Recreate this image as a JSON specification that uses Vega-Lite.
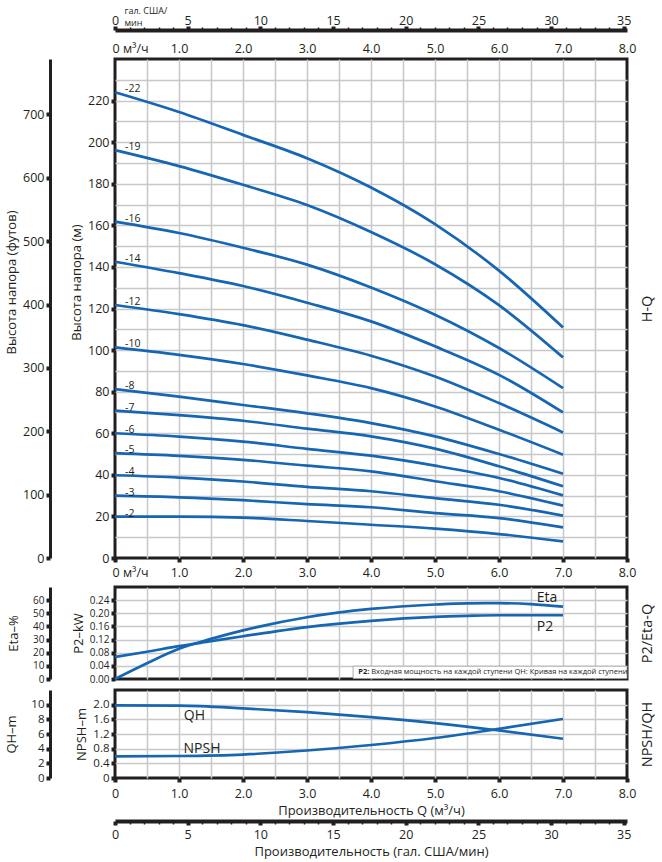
{
"$schema": "https://vega.github.io/schema/vega-lite/v6.json",
"padding": {"left": 4, "top": 4, "right": 0, "bottom": 0},
"background": "white",
"config": {
 "font": "Open Sans",
 "view": {"stroke": "#231f20", "strokeWidth": 3},
 "axis": {"labelFont": "Open Sans", "labelFontSize": 12.5, "labelColor": "#231f20", "titleFont": "Open Sans", "titleFontSize": 13, "titleFontWeight": "normal", "titleColor": "#231f20", "gridColor": "#c8c8c8", "gridWidth": 1.5, "domainColor": "#231f20", "tickColor": "#231f20", "labelOverlap": false, "labelFlush": false},
 "line": {"color": "#1666b4", "strokeWidth": 2.7},
 "text": {"font": "Open Sans", "color": "#231f20"}
},
"datasets": {
 "hq": [
  {"s":"-22","q":0,"h":224.0},{"s":"-22","q":1,"h":214.5},{"s":"-22","q":2,"h":203.5},{"s":"-22","q":3,"h":192.3},{"s":"-22","q":4,"h":178.2},{"s":"-22","q":5,"h":160.6},{"s":"-22","q":6,"h":138.2},{"s":"-22","q":7,"h":110.9},
  {"s":"-19","q":0,"h":196.2},{"s":"-19","q":1,"h":188.5},{"s":"-19","q":2,"h":179.5},{"s":"-19","q":3,"h":169.8},{"s":"-19","q":4,"h":156.8},{"s":"-19","q":5,"h":141.3},{"s":"-19","q":6,"h":121.6},{"s":"-19","q":7,"h":96.5},
  {"s":"-16","q":0,"h":161.8},{"s":"-16","q":1,"h":156.3},{"s":"-16","q":2,"h":149.2},{"s":"-16","q":3,"h":141.1},{"s":"-16","q":4,"h":130.1},{"s":"-16","q":5,"h":117.0},{"s":"-16","q":6,"h":101.0},{"s":"-16","q":7,"h":81.7},
  {"s":"-14","q":0,"h":142.5},{"s":"-14","q":1,"h":137.0},{"s":"-14","q":2,"h":130.8},{"s":"-14","q":3,"h":122.8},{"s":"-14","q":4,"h":113.8},{"s":"-14","q":5,"h":101.8},{"s":"-14","q":6,"h":88.1},{"s":"-14","q":7,"h":70.0},
  {"s":"-12","q":0,"h":121.7},{"s":"-12","q":1,"h":117.3},{"s":"-12","q":2,"h":112.0},{"s":"-12","q":3,"h":105.0},{"s":"-12","q":4,"h":97.3},{"s":"-12","q":5,"h":87.3},{"s":"-12","q":6,"h":74.5},{"s":"-12","q":7,"h":60.4},
  {"s":"-10","q":0,"h":101.3},{"s":"-10","q":1,"h":97.7},{"s":"-10","q":2,"h":93.3},{"s":"-10","q":3,"h":87.8},{"s":"-10","q":4,"h":81.7},{"s":"-10","q":5,"h":72.9},{"s":"-10","q":6,"h":61.7},{"s":"-10","q":7,"h":49.7},
  {"s":"-8","q":0,"h":81.2},{"s":"-8","q":1,"h":77.6},{"s":"-8","q":2,"h":73.6},{"s":"-8","q":3,"h":69.6},{"s":"-8","q":4,"h":64.9},{"s":"-8","q":5,"h":58.5},{"s":"-8","q":6,"h":50.0},{"s":"-8","q":7,"h":40.5},
  {"s":"-7","q":0,"h":70.9},{"s":"-7","q":1,"h":68.7},{"s":"-7","q":2,"h":66.0},{"s":"-7","q":3,"h":62.2},{"s":"-7","q":4,"h":58.5},{"s":"-7","q":5,"h":52.6},{"s":"-7","q":6,"h":44.1},{"s":"-7","q":7,"h":34.5},
  {"s":"-6","q":0,"h":60.0},{"s":"-6","q":1,"h":58.4},{"s":"-6","q":2,"h":56.0},{"s":"-6","q":3,"h":52.5},{"s":"-6","q":4,"h":49.2},{"s":"-6","q":5,"h":44.4},{"s":"-6","q":6,"h":38.5},{"s":"-6","q":7,"h":30.1},
  {"s":"-5","q":0,"h":50.4},{"s":"-5","q":1,"h":49.1},{"s":"-5","q":2,"h":47.2},{"s":"-5","q":3,"h":44.4},{"s":"-5","q":4,"h":41.7},{"s":"-5","q":5,"h":36.9},{"s":"-5","q":6,"h":32.1},{"s":"-5","q":7,"h":25.2},
  {"s":"-4","q":0,"h":39.8},{"s":"-4","q":1,"h":38.7},{"s":"-4","q":2,"h":36.8},{"s":"-4","q":3,"h":34.2},{"s":"-4","q":4,"h":32.1},{"s":"-4","q":5,"h":28.8},{"s":"-4","q":6,"h":25.6},{"s":"-4","q":7,"h":20.4},
  {"s":"-3","q":0,"h":30.0},{"s":"-3","q":1,"h":29.2},{"s":"-3","q":2,"h":27.8},{"s":"-3","q":3,"h":25.9},{"s":"-3","q":4,"h":24.4},{"s":"-3","q":5,"h":21.6},{"s":"-3","q":6,"h":19.2},{"s":"-3","q":7,"h":14.7},
  {"s":"-2","q":0,"h":19.9},{"s":"-2","q":1,"h":19.9},{"s":"-2","q":2,"h":19.4},{"s":"-2","q":3,"h":17.8},{"s":"-2","q":4,"h":16.0},{"s":"-2","q":5,"h":14.1},{"s":"-2","q":6,"h":11.5},{"s":"-2","q":7,"h":8.0}
 ],
 "pe": [
  {"q":0,"p2":0.067,"eta":0},{"q":0.5,"p2":0.083,"eta":12},{"q":1,"p2":0.100,"eta":23},{"q":1.5,"p2":0.115,"eta":30.5},{"q":2,"p2":0.130,"eta":37},{"q":3,"p2":0.158,"eta":47},{"q":4,"p2":0.177,"eta":53.3},{"q":5,"p2":0.189,"eta":56.7},{"q":5.5,"p2":0.192,"eta":57.6},{"q":6,"p2":0.194,"eta":57.7},{"q":6.5,"p2":0.194,"eta":57},{"q":7,"p2":0.194,"eta":55}
 ],
 "nq": [
  {"q":0,"qh":9.9,"npsh":0.59},{"q":1,"qh":9.86,"npsh":0.6},{"q":2,"qh":9.5,"npsh":0.64},{"q":3,"qh":8.98,"npsh":0.75},{"q":4,"qh":8.3,"npsh":0.9},{"q":5,"qh":7.48,"npsh":1.09},{"q":6,"qh":6.48,"npsh":1.34},{"q":7,"qh":5.35,"npsh":1.61}
 ],
 "aux": [{"gpm":0,"ft":0},{"gpm":35,"ft":700}],
 "pelab": [{"t":"Eta","q":6.75,"v":0.247},{"t":"P2","q":6.72,"v":0.158}],
 "nqlab": [{"t":"QH","q":1.24,"v":1.70},{"t":"NPSH","q":1.36,"v":0.80}],
 "note": [{"k":"P2:","t":"Входная мощность на каждой ступени QH: Кривая на каждой ступени","q":3.8,"q0":3.72,"q1":8,"v":0.02,"v0":0.0015,"v1":0.039}]
},
"spacing": 29,
"bounds": "flush",
"vconcat": [
 {
  "width": 512, "height": 499,
  "resolve": {"scale": {"x": "independent", "y": "independent"}, "axis": {"x": "independent", "y": "independent"}},
  "layer": [
   {
    "data": {"name": "hq"},
    "mark": {"type": "line", "interpolate": "monotone"},
    "encoding": {
     "x": {"field": "q", "type": "quantitative", "scale": {"domain": [0, 8], "nice": false},
      "axis": {"orient": "top", "values": [0,0.5,1,1.5,2,2.5,3,3.5,4,4.5,5,5.5,6,6.5,7,7.5,8], "grid": true,
       "gridOpacity": {"condition": {"test": "datum.value == 0 || datum.value == 8", "value": 0}, "value": 1},
       "ticks": false, "domain": false,
       "labelExpr": "datum.value % 1 ? '' : (datum.value == 0 ? '0 м³/ч' : format(datum.value, '.1f'))",
       "labelAlign": {"condition": {"test": "datum.value == 0", "value": "left"}, "value": "center"},
       "labelOffset": {"condition": {"test": "datum.value == 0", "value": -3}, "value": 0},
       "labelPadding": 4, "title": null}},
     "y": {"field": "h", "type": "quantitative", "scale": {"domain": [0, 240], "nice": false},
      "axis": {"values": [0,10,20,30,40,50,60,70,80,90,100,110,120,130,140,150,160,170,180,190,200,210,220,230,240], "grid": true,
       "gridOpacity": {"condition": {"test": "datum.value == 0 || datum.value == 240", "value": 0}, "value": 1},
       "domain": false, "tickSize": 4, "tickWidth": 4,
       "tickOpacity": {"condition": {"test": "datum.value % 20 != 0 || datum.value == 240", "value": 0}, "value": 1},
       "labelExpr": "datum.value % 20 != 0 || datum.value == 240 ? '' : datum.label",
       "labelPadding": 2, "title": "Высота напора (м)", "titlePadding": 4, "titleY": 223}},
     "detail": {"field": "s"}
    }
   },
   {
    "data": {"name": "hq"},
    "transform": [{"filter": "datum.q == 0"}],
    "mark": {"type": "text", "align": "left", "baseline": "bottom", "dx": 10, "dy": 2, "fontSize": 10.5},
    "encoding": {
     "x": {"field": "q", "type": "quantitative", "scale": {"domain": [0, 8], "nice": false},
      "axis": {"orient": "bottom", "values": [0,1,2,3,4,5,6,7,8], "grid": false, "domain": false, "tickSize": 4, "tickWidth": 4,
       "labelExpr": "datum.value == 0 ? '0 м³/ч' : format(datum.value, '.1f')",
       "labelAlign": {"condition": {"test": "datum.value == 0", "value": "left"}, "value": "center"},
       "labelOffset": {"condition": {"test": "datum.value == 0", "value": -3}, "value": 0},
       "labelPadding": 4, "title": null}},
     "y": {"field": "h", "type": "quantitative", "scale": {"domain": [0, 240], "nice": false},
      "axis": {"orient": "right", "labels": false, "ticks": false, "domain": false, "grid": false, "title": "H-Q", "titleAngle": 270, "titleBaseline": "top", "titleFontSize": 14.5, "titlePadding": 13}},
     "text": {"field": "s"}
    }
   },
   {
    "data": {"name": "aux"},
    "mark": {"type": "point", "opacity": 0},
    "encoding": {
     "x": {"field": "gpm", "type": "quantitative", "scale": {"domain": [0, 35.2252], "nice": false},
      "axis": {"orient": "top", "offset": 29, "values": [0,1,2,3,4,5,6,7,8,9,10,11,12,13,14,15,16,17,18,19,20,21,22,23,24,25,26,27,28,29,30,31,32,33,34,35],
       "grid": false, "domainWidth": 4,
       "tickSize": {"condition": {"test": "datum.value % 5 != 0", "value": 3}, "value": 4},
       "tickWidth": {"condition": {"test": "datum.value % 5 != 0", "value": 1.5}, "value": 4},
       "labelExpr": "datum.value % 5 != 0 ? '' : datum.label", "labelPadding": -1,
       "title": ["гал. США/", "мин"], "titleFontSize": 9, "titleAnchor": "start", "titleAlign": "left", "titleBaseline": "top", "titleX": 9, "titleY": -24, "titleLineHeight": 12}},
     "y": {"field": "ft", "type": "quantitative", "scale": {"domain": [0, 787.4], "nice": false},
      "axis": {"orient": "left", "offset": 65, "values": [0,100,200,300,400,500,600,700], "grid": false, "domainWidth": 3, "tickSize": 4, "tickWidth": 4,
       "labelPadding": 2, "title": "Высота напора (футов)", "titlePadding": 4, "titleY": 223}}
    }
   }
  ]
 },
 {
  "spacing": 11,
  "bounds": "flush",
  "vconcat": [
   {
    "width": 512, "height": 92,
    "resolve": {"scale": {"x": "independent", "y": "independent"}, "axis": {"x": "independent", "y": "independent"}},
    "layer": [
     {
      "data": {"name": "pe"},
      "mark": {"type": "line", "interpolate": "monotone"},
      "encoding": {
       "x": {"field": "q", "type": "quantitative", "scale": {"domain": [0, 8], "nice": false},
        "axis": {"values": [0,0.5,1,1.5,2,2.5,3,3.5,4,4.5,5,5.5,6,6.5,7,7.5,8], "grid": true,
         "gridOpacity": {"condition": {"test": "datum.value == 0 || datum.value == 8", "value": 0}, "value": 1},
         "labels": false, "ticks": false, "domain": false, "title": null}},
       "y": {"field": "p2", "type": "quantitative", "scale": {"domain": [0, 0.28], "nice": false},
        "axis": {"values": [0,0.04,0.08,0.12,0.16,0.2,0.24,0.28], "grid": true,
         "gridOpacity": {"condition": {"test": "datum.value == 0 || datum.value > 0.27", "value": 0}, "value": 1},
         "domain": false, "tickSize": 4, "tickWidth": 4,
         "tickOpacity": {"condition": {"test": "datum.value > 0.27", "value": 0}, "value": 1},
         "labelExpr": "datum.value > 0.27 ? '' : format(datum.value, '.2f')",
         "labelFontSize": 10, "labelPadding": 2, "title": "P2–kW", "titlePadding": 4}}
      }
     },
     {
      "data": {"name": "pe"},
      "mark": {"type": "line", "interpolate": "monotone"},
      "encoding": {
       "x": {"field": "q", "type": "quantitative", "scale": {"domain": [0, 8], "nice": false}, "axis": null},
       "y": {"field": "eta", "type": "quantitative", "scale": {"domain": [0, 70], "nice": false},
        "axis": {"orient": "left", "offset": 65, "values": [0,10,20,30,40,50,60], "grid": false, "domainWidth": 3, "tickSize": 4, "tickWidth": 4,
         "labelFontSize": 10, "labelPadding": 2, "title": "Eta–%", "titlePadding": 12}}
      }
     },
     {
      "data": {"name": "pelab"},
      "mark": {"type": "text", "fontSize": 14, "align": "center", "baseline": "middle"},
      "encoding": {
       "x": {"field": "q", "type": "quantitative", "scale": {"domain": [0, 8], "nice": false}, "axis": null},
       "y": {"field": "v", "type": "quantitative", "scale": {"domain": [0, 0.28], "nice": false},
        "axis": {"orient": "right", "labels": false, "ticks": false, "domain": false, "grid": false, "title": "P2/Eta-Q", "titleAngle": 270, "titleBaseline": "top", "titleFontSize": 14.5, "titlePadding": 13}},
       "text": {"field": "t"}
      }
     },
     {
      "data": {"name": "note"},
      "mark": {"type": "rect", "fill": "white", "stroke": "#9a9a9a", "strokeWidth": 0.8},
      "encoding": {
       "x": {"field": "q0", "type": "quantitative", "scale": {"domain": [0, 8], "nice": false}, "axis": null},
       "x2": {"field": "q1"},
       "y": {"field": "v0", "type": "quantitative", "scale": {"domain": [0, 0.28], "nice": false}, "axis": null},
       "y2": {"field": "v1"}
      }
     },
     {
      "data": {"name": "note"},
      "mark": {"type": "text", "fontSize": 7.5, "fontWeight": "bold", "align": "left", "baseline": "middle"},
      "encoding": {
       "x": {"field": "q", "type": "quantitative", "scale": {"domain": [0, 8], "nice": false}, "axis": null},
       "y": {"field": "v", "type": "quantitative", "scale": {"domain": [0, 0.28], "nice": false}, "axis": null},
       "text": {"field": "k"}
      }
     },
     {
      "data": {"name": "note"},
      "mark": {"type": "text", "fontSize": 7.5, "align": "left", "baseline": "middle", "dx": 13},
      "encoding": {
       "x": {"field": "q", "type": "quantitative", "scale": {"domain": [0, 8], "nice": false}, "axis": null},
       "y": {"field": "v", "type": "quantitative", "scale": {"domain": [0, 0.28], "nice": false}, "axis": null},
       "text": {"field": "t"}
      }
     }
    ]
   },
   {
    "width": 512, "height": 88,
    "resolve": {"scale": {"x": "independent", "y": "independent"}, "axis": {"x": "independent", "y": "independent"}},
    "layer": [
     {
      "data": {"name": "nq"},
      "mark": {"type": "line", "interpolate": "monotone"},
      "encoding": {
       "x": {"field": "q", "type": "quantitative", "scale": {"domain": [0, 8], "nice": false},
        "axis": {"values": [0,0.5,1,1.5,2,2.5,3,3.5,4,4.5,5,5.5,6,6.5,7,7.5,8], "grid": true,
         "gridOpacity": {"condition": {"test": "datum.value == 0 || datum.value == 8", "value": 0}, "value": 1},
         "domain": false, "tickSize": 4, "tickWidth": 4,
         "tickOpacity": {"condition": {"test": "datum.value % 1 != 0", "value": 0}, "value": 1},
         "labelExpr": "datum.value % 1 != 0 ? '' : (datum.value == 0 ? '0' : format(datum.value, '.1f'))",
         "labelPadding": 5, "title": "Производительность Q (м³/ч)", "titlePadding": 5}},
       "y": {"field": "npsh", "type": "quantitative", "scale": {"domain": [0, 2.4], "nice": false},
        "axis": {"values": [0,0.4,0.8,1.2,1.6,2.0,2.4], "grid": true,
         "gridOpacity": {"condition": {"test": "datum.value == 0 || datum.value > 2.3", "value": 0}, "value": 1},
         "domain": false, "tickSize": 4, "tickWidth": 4,
         "tickOpacity": {"condition": {"test": "datum.value > 2.3", "value": 0}, "value": 1},
         "labelExpr": "datum.value > 2.3 ? '' : (datum.value == 0 ? '0' : format(datum.value, '.1f'))",
         "labelFontSize": 11.5, "labelPadding": 2, "title": "NPSH–m", "titlePadding": 4}}
      }
     },
     {
      "data": {"name": "nq"},
      "mark": {"type": "line", "interpolate": "monotone"},
      "encoding": {
       "x": {"field": "q", "type": "quantitative", "scale": {"domain": [0, 8], "nice": false}, "axis": null},
       "y": {"field": "qh", "type": "quantitative", "scale": {"domain": [0, 12], "nice": false},
        "axis": {"orient": "left", "offset": 65, "values": [0,2,4,6,8,10], "grid": false, "domainWidth": 3, "tickSize": 4, "tickWidth": 4,
         "labelFontSize": 11.5, "labelPadding": 2, "title": "QH–m", "titlePadding": 12}}
      }
     },
     {
      "data": {"name": "nqlab"},
      "mark": {"type": "text", "fontSize": 14, "align": "center", "baseline": "middle"},
      "encoding": {
       "x": {"field": "q", "type": "quantitative", "scale": {"domain": [0, 8], "nice": false}, "axis": null},
       "y": {"field": "v", "type": "quantitative", "scale": {"domain": [0, 2.4], "nice": false},
        "axis": {"orient": "right", "labels": false, "ticks": false, "domain": false, "grid": false, "title": "NPSH/QH", "titleAngle": 270, "titleBaseline": "top", "titleFontSize": 14.5, "titlePadding": 13}},
       "text": {"field": "t"}
      }
     },
     {
      "data": {"name": "aux"},
      "mark": {"type": "point", "opacity": 0},
      "encoding": {
       "x": {"field": "gpm", "type": "quantitative", "scale": {"domain": [0, 35.2252], "nice": false},
        "axis": {"orient": "bottom", "offset": 43, "values": [0,1,2,3,4,5,6,7,8,9,10,11,12,13,14,15,16,17,18,19,20,21,22,23,24,25,26,27,28,29,30,31,32,33,34,35],
         "grid": false, "domainWidth": 4,
         "tickSize": {"condition": {"test": "datum.value % 5 != 0", "value": 3}, "value": 4},
         "tickWidth": {"condition": {"test": "datum.value % 5 != 0", "value": 1.5}, "value": 4},
         "labelExpr": "datum.value % 5 != 0 ? '' : datum.label", "labelPadding": 3,
         "title": "Производительность (гал. США/мин)", "titlePadding": 5}},
       "y": {"field": "ft", "type": "quantitative", "scale": {"domain": [0, 787.4], "nice": false}, "axis": null}
      }
     }
    ]
   }
  ]
 }
]
}
